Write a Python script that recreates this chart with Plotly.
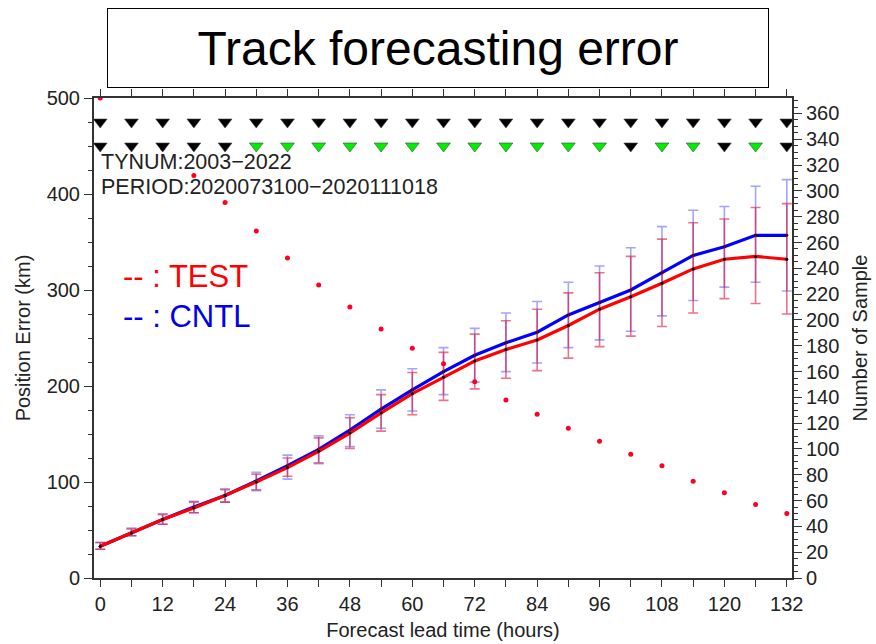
import plotly.graph_objects as go

# ---------------- data ----------------
hours = list(range(0, 133, 6))
x_tick_labels = [str(h) for h in range(0, 133, 12)]

test_mean  = [33, 47, 61, 73, 86, 100, 115, 132, 151, 172, 192, 209, 226, 238, 248, 263, 280, 293, 307, 322, 332, 335, 332]
test_upper = [37, 51, 66, 79, 92, 108, 125, 146, 167, 191, 214, 235, 254, 268, 280, 297, 318, 335, 353, 370, 374, 386, 390]
test_lower = [30, 44, 56, 68, 79, 92, 106, 120, 135, 153, 170, 185, 197, 208, 216, 229, 241, 252, 262, 276, 291, 286, 275]

cntl_mean  = [33, 47, 61, 74, 86, 101, 117, 134, 154, 176, 196, 215, 232, 245, 256, 274, 287, 300, 318, 336, 345, 357, 357]
cntl_upper = [37, 52, 67, 80, 93, 110, 128, 148, 170, 196, 218, 240, 260, 276, 288, 308, 325, 344, 366, 383, 387, 408, 415]
cntl_lower = [30, 44, 56, 68, 79, 91, 103, 119, 137, 156, 174, 191, 204, 215, 224, 240, 248, 257, 273, 289, 303, 308, 299]

sample_count = [372, 353, 333, 312, 291, 269, 248, 227, 210, 193, 178, 166, 152, 138, 127, 116, 106, 96, 87, 75, 66, 57, 50]

# significance rows (k = black, g = green)
row1_flags = ['k'] * 23
row2_flags = ['k', 'k', 'k', 'k', 'k', 'g', 'g', 'g', 'g', 'g', 'g', 'g', 'g', 'g', 'g', 'g', 'g',
              'k', 'g', 'g', 'k', 'g', 'k']
row1_level = 475
row2_level = 450

note_lines = ["TYNUM:2003\u22122022", "PERIOD:2020073100\u22122020111018"]
title_text = "Track forecasting error"

# ---------------- styling helpers ----------------
FONT = "Liberation Sans, Arial, Helvetica, sans-serif"
W, H = 876, 644
L, R, T, B = 94, 84, 98, 66
PW, PH = W - L - R, H - T - B


def px(xp):
    return (xp - L) / PW


def py(yp):
    return (H - B - yp) / PH


flag_color = {'k': 'black', 'g': '#00ee00'}

fig = go.Figure()

# CNTL
fig.add_trace(go.Scatter(
    x=hours, y=cntl_mean, mode='lines+markers',
    line=dict(color='#0000ff', width=3.2),
    marker=dict(color='black', size=3),
    error_y=dict(type='data', symmetric=False,
                 array=[u - m for u, m in zip(cntl_upper, cntl_mean)],
                 arrayminus=[m - l for m, l in zip(cntl_mean, cntl_lower)],
                 color='rgba(90,90,255,0.55)', thickness=1.6, width=5),
    showlegend=False, yaxis='y'))

# TEST
fig.add_trace(go.Scatter(
    x=hours, y=test_mean, mode='lines+markers',
    line=dict(color='#ff0000', width=3.2),
    marker=dict(color='black', size=3),
    error_y=dict(type='data', symmetric=False,
                 array=[u - m for u, m in zip(test_upper, test_mean)],
                 arrayminus=[m - l for m, l in zip(test_mean, test_lower)],
                 color='rgba(220,0,40,0.55)', thickness=1.6, width=5),
    showlegend=False, yaxis='y'))

# Number of samples
fig.add_trace(go.Scatter(
    x=hours, y=sample_count, mode='markers',
    marker=dict(color='#ff0022', size=5),
    showlegend=False, yaxis='y2'))

# Significance triangles
fig.add_trace(go.Scatter(
    x=hours, y=[row1_level] * len(hours), mode='markers',
    marker=dict(symbol='triangle-down', size=12,
                color=[flag_color[f] for f in row1_flags],
                line=dict(color='#444', width=0.6)),
    showlegend=False, yaxis='y3'))
fig.add_trace(go.Scatter(
    x=hours, y=[row2_level] * len(hours), mode='markers',
    marker=dict(symbol='triangle-down', size=12,
                color=[flag_color[f] for f in row2_flags],
                line=dict(color='#444', width=0.6)),
    showlegend=False, yaxis='y3'))

axis_common = dict(showline=True, linecolor='#333', linewidth=2,
                   ticks='outside', tickcolor='#333', tickwidth=1.3,
                   showgrid=False, zeroline=False,
                   tickfont=dict(family=FONT, size=20, color='#222'))

fig.update_layout(
    width=W, height=H,
    margin=dict(l=L, r=R, t=T, b=B, autoexpand=False),
    paper_bgcolor='white', plot_bgcolor='white',
    font=dict(family=FONT, color='#222'),
    xaxis=dict(range=[-1.2, 133], tickvals=list(range(0, 133, 12)), ticktext=x_tick_labels,
               ticklen=7, mirror='allticks',
               minor=dict(dtick=6, tick0=0, ticklen=5, ticks='outside', tickcolor='#333'),
               title=dict(text="Forecast lead time (hours)", font=dict(family=FONT, size=20, color='#222'),
                          standoff=9),
               **axis_common),
    yaxis=dict(range=[0, 500], dtick=100, ticklen=8,
               minor=dict(dtick=25, ticklen=4, ticks='outside', tickcolor='#333'),
               title=dict(text="Position Error (km)", font=dict(family=FONT, size=20, color='#222'),
                          standoff=11),
               **axis_common),
    yaxis2=dict(range=[0, 372], dtick=20, ticklen=8, overlaying='y', side='right',
                minor=dict(dtick=5, ticklen=4, ticks='outside', tickcolor='#333'),
                title=dict(text="Number of Sample", font=dict(family=FONT, size=20, color='#222'),
                           standoff=15),
                **axis_common),
    yaxis3=dict(range=[0, 500], overlaying='y', visible=False),
)

annotations = [
    dict(text=title_text, xref='paper', yref='paper', x=px(438), y=py(48),
         xanchor='center', yanchor='middle', showarrow=False,
         width=658, height=76, bordercolor='black', borderwidth=1, borderpad=1,
         font=dict(family=FONT, size=48, color='black')),
    dict(text=note_lines[0], xref='paper', yref='paper', x=px(99), y=py(162),
         xanchor='left', yanchor='middle', showarrow=False,
         font=dict(family=FONT, size=21.5, color='#222')),
    dict(text=note_lines[1], xref='paper', yref='paper', x=px(99), y=py(187),
         xanchor='left', yanchor='middle', showarrow=False,
         font=dict(family=FONT, size=21.5, color='#222')),
    dict(text="-- : TEST", xref='paper', yref='paper', x=px(121), y=py(276),
         xanchor='left', yanchor='middle', showarrow=False,
         font=dict(family=FONT, size=31, color='#ff0000')),
    dict(text="-- : CNTL", xref='paper', yref='paper', x=px(121), y=py(316),
         xanchor='left', yanchor='middle', showarrow=False,
         font=dict(family=FONT, size=31, color='#0000ee')),
]
fig.update_layout(annotations=annotations)

fig.write_html("out.html")
